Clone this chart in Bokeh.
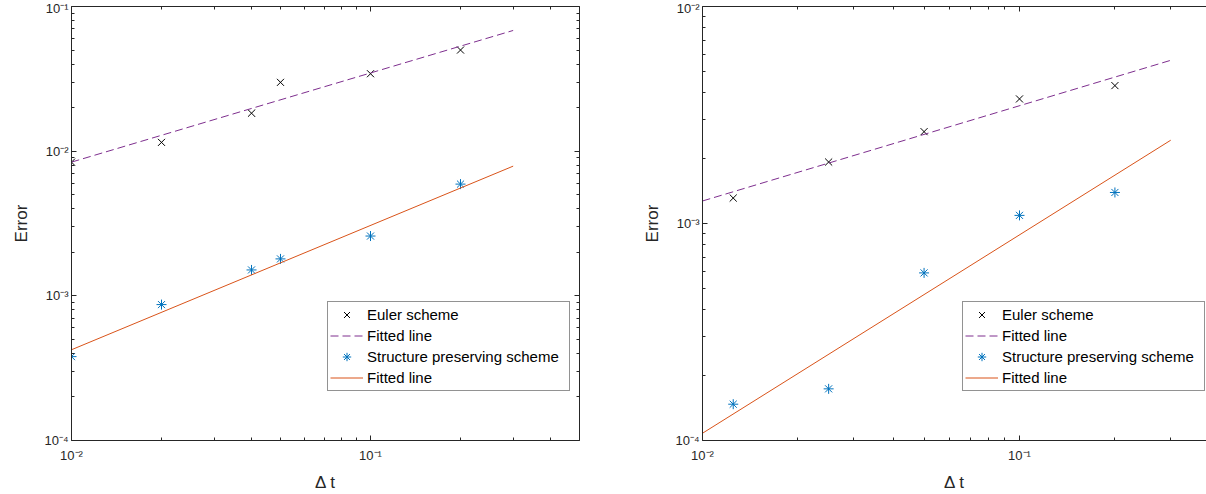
from bokeh.plotting import figure
from bokeh.models import (LogAxis, FixedTicker, CustomJSTickFormatter, Legend,
                          LegendItem, Range1d)
from bokeh.layouts import row
from bokeh.embed import file_html
from bokeh.resources import INLINE

# ---------------- data ----------------
# left panel
left_dt = [0.01, 0.02, 0.04, 0.05, 0.1, 0.2]
left_euler = [0.0084, 0.0115, 0.0183, 0.0299, 0.0343, 0.0500]
left_sp = [3.8e-4, 8.7e-4, 1.51e-3, 1.80e-3, 2.59e-3, 5.92e-3]
left_fit_dt = [0.01, 0.3]
left_euler_fit = [0.0084, 0.0683]
left_sp_fit = [4.24e-4, 7.88e-3]

# right panel
right_dt = [0.0125, 0.025, 0.05, 0.1, 0.2]
right_euler = [1.31e-3, 1.92e-3, 2.65e-3, 3.75e-3, 4.32e-3]
right_sp = [1.47e-4, 1.73e-4, 5.92e-4, 1.09e-3, 1.39e-3]
right_fit_dt = [0.01, 0.3]
right_euler_fit = [1.27e-3, 5.65e-3]
right_sp_fit = [1.08e-4, 2.42e-3]

legend_labels = ["Euler scheme", "Fitted line", "Structure preserving scheme", "Fitted line"]
x_label = "\u0394 t"
y_label = "Error"

# ---------------- styling ----------------
FONT = "Liberation Sans"
AXC = "#262626"
BLUE = "#0072BD"
ORANGE = "#D95319"
PURPLE = "#7E2F8E"


def decade_ticks(lo_exp, hi_exp):
    major = [10.0 ** e for e in range(lo_exp, hi_exp + 1)]
    minor = []
    for e in range(lo_exp, hi_exp):
        for m in range(2, 10):
            minor.append(m * 10.0 ** e)
    return major, minor


SUP_JS = """
const e = Math.round(Math.log10(tick));
const sup = {'-':'\u207b','0':'\u2070','1':'\u00b9','2':'\u00b2','3':'\u00b3','4':'\u2074',
             '5':'\u2075','6':'\u2076','7':'\u2077','8':'\u2078','9':'\u2079'};
return '10' + String(e).split('').map(c => sup[c]).join('');
"""
EMPTY_JS = "return '';"


def style_axis(ax, ticker, labelled, is_x):
    ax.ticker = ticker
    ax.axis_line_color = AXC
    ax.axis_line_width = 1
    ax.major_tick_line_color = AXC
    ax.minor_tick_line_color = AXC
    ax.major_tick_in = 5
    ax.major_tick_out = 0
    ax.minor_tick_in = 3
    ax.minor_tick_out = 0
    if labelled:
        ax.formatter = CustomJSTickFormatter(code=SUP_JS)
        ax.major_label_text_font = FONT
        ax.major_label_text_font_size = "13px"
        ax.major_label_text_color = AXC
        ax.major_label_standoff = 7 if is_x else 3
        ax.axis_label_text_font = FONT
        ax.axis_label_text_font_size = "17px"
        ax.axis_label_text_font_style = "normal"
        ax.axis_label_text_color = AXC
        ax.axis_label_standoff = 7 if is_x else 10
    else:
        ax.formatter = CustomJSTickFormatter(code=EMPTY_JS)
        ax.major_label_text_font_size = "0px"
        ax.major_label_standoff = 0
        ax.axis_label = None


def make_panel(width, height, xr, yr, yexp, mb_left, mb_right, right_axis,
               dt, euler, sp, fit_dt, euler_fit, sp_fit, legend_loc):
    p = figure(width=width, height=height, x_axis_type="log", y_axis_type="log",
               x_range=Range1d(*xr), y_range=Range1d(*yr),
               output_backend="svg", toolbar_location=None,
               min_border_left=mb_left, min_border_right=mb_right,
               min_border_top=6, min_border_bottom=53)
    p.outline_line_color = None
    p.grid.visible = False
    p.background_fill_color = "white"
    p.border_fill_color = "white"

    xmaj, xmin = decade_ticks(-2, 0)
    ymaj, ymin = decade_ticks(yexp[0], yexp[1])
    xt = FixedTicker(ticks=xmaj, minor_ticks=xmin)
    yt = FixedTicker(ticks=ymaj, minor_ticks=ymin)

    style_axis(p.xaxis[0], xt, True, True)
    style_axis(p.yaxis[0], yt, True, False)
    p.xaxis[0].axis_label = x_label
    p.yaxis[0].axis_label = y_label

    top = LogAxis()
    style_axis(top, FixedTicker(ticks=xmaj, minor_ticks=xmin), False, True)
    p.add_layout(top, "above")
    if right_axis:
        rt = LogAxis()
        style_axis(rt, FixedTicker(ticks=ymaj, minor_ticks=ymin), False, False)
        p.add_layout(rt, "right")

    r1 = p.scatter(dt, euler, marker="x", size=10, line_color="black", line_width=1)
    r2 = p.line(fit_dt, euler_fit, line_color=PURPLE, line_width=1, line_dash="8 4")
    r3 = p.scatter(dt, sp, marker="asterisk", size=10, line_color=BLUE, line_width=1)
    r4 = p.line(fit_dt, sp_fit, line_color=ORANGE, line_width=1)

    items = [LegendItem(label=legend_labels[i], renderers=[r])
             for i, r in enumerate([r1, r2, r3, r4])]
    leg = Legend(items=items, location=legend_loc)
    leg.label_text_font = FONT
    leg.label_text_font_size = "15px"
    leg.label_text_color = "black"
    leg.label_height = 21
    leg.glyph_height = 21
    leg.glyph_width = 33
    leg.label_width = 200
    leg.label_standoff = 4
    leg.spacing = 0
    leg.padding = 2
    leg.margin = 0
    leg.border_line_color = AXC
    leg.border_line_width = 1
    leg.background_fill_color = "white"
    leg.background_fill_alpha = 1.0
    p.add_layout(leg)
    return p


H = 494
p1 = make_panel(608, H, (0.01, 0.5), (1e-4, 1e-1), (-4, -1), 71, 29, True,
                left_dt, left_euler, left_sp, left_fit_dt, left_euler_fit, left_sp_fit,
                (256, 49))
p2 = make_panel(598, H, (0.01, 0.389), (1e-4, 1e-2), (-4, -2), 94, 0, False,
                right_dt, right_euler, right_sp, right_fit_dt, right_euler_fit, right_sp_fit,
                (260, 49))

layout = row(p1, p2, spacing=0)

open("out.html", "w").write(file_html(layout, INLINE))
